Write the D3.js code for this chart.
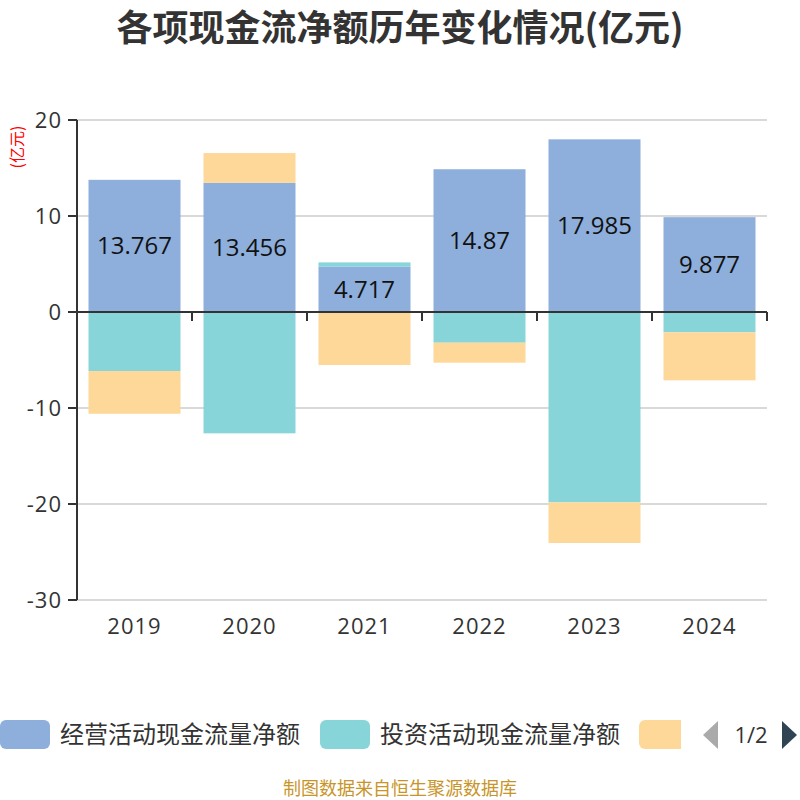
<!DOCTYPE html>
<html><head><meta charset="utf-8">
<script src="https://cdn.jsdelivr.net/npm/d3@7"></script>
<style>body{margin:0;background:#fff}svg{display:block;font-family:"Noto Sans CJK SC","Noto Sans",sans-serif}</style>
</head><body><svg id="c" width="800" height="800"></svg>
<script>
const years = ["2019","2020","2021","2022","2023","2024"];
const operating = [13.767, 13.456, 4.717, 14.87, 17.985, 9.877];
const investing = [-6.15, -12.64, 0.45, -3.2, -19.83, -2.12];
const financing = [-4.45, 3.1, -5.52, -2.08, -4.23, -5.0];
const seriesNames = ["经营活动现金流量净额", "投资活动现金流量净额", "筹资活动现金流量净额"];
const colors = ["#8eaedb", "#88d5d9", "#fed898"];
const yTicks = [20, 10, 0, -10, -20, -30];

const svg = d3.select("#c");
const x = d3.scaleBand().domain(years).range([77, 767]).paddingInner(0.2).paddingOuter(0.1);
const xb = d3.scaleBand().domain(years).range([77, 767]);
const y = d3.scaleLinear().domain([-30, 20]).range([600, 120]);
const numFont = "'Open Sans','Noto Sans',sans-serif";

// grid
svg.append("g").selectAll("line").data(yTicks).join("line")
  .attr("x1", 77).attr("x2", 767).attr("y1", d => y(d)).attr("y2", d => y(d))
  .attr("stroke", "#ccc").attr("stroke-width", 1.5);

// stacked bars (positive/negative stacking)
const allSeries = [operating, investing, financing];
const posAcc = years.map(() => 0), negAcc = years.map(() => 0);
allSeries.forEach((s, si) => {
  const segs = s.map((v, i) => {
    let y0, y1;
    if (v >= 0) { y0 = posAcc[i]; y1 = y0 + v; posAcc[i] = y1; }
    else { y0 = negAcc[i]; y1 = y0 + v; negAcc[i] = y1; }
    return {year: years[i], y0, y1, v};
  });
  svg.append("g").selectAll("rect").data(segs).join("rect")
    .attr("x", d => x(d.year)).attr("width", x.bandwidth())
    .attr("y", d => y(Math.max(d.y0, d.y1)))
    .attr("height", d => Math.abs(y(d.y0) - y(d.y1)))
    .attr("fill", colors[si]);
});

// labels on operating
svg.append("g").selectAll("text").data(operating).join("text")
  .attr("x", (d, i) => x(years[i]) + x.bandwidth() / 2)
  .attr("y", d => y(d / 2))
  .attr("dy", "0.35em").attr("text-anchor", "middle")
  .attr("font-size", 24).attr("fill", "#111")
  .attr("font-family", numFont)
  .text(d => d);

// x axis at zero
const xg = svg.append("g");
xg.append("line").attr("x1", 77).attr("x2", 767).attr("y1", y(0)).attr("y2", y(0))
  .attr("stroke", "#333").attr("stroke-width", 2);
const bounds = years.map(d => xb(d)).concat([767]);
xg.selectAll("line.t").data(bounds).join("line").attr("class", "t")
  .attr("x1", d => d).attr("x2", d => d).attr("y1", y(0)).attr("y2", y(0) + 9)
  .attr("stroke", "#333").attr("stroke-width", 2);
svg.append("g").selectAll("text").data(years).join("text")
  .attr("x", d => xb(d) + xb.bandwidth() / 2).attr("y", 626)
  .attr("dy", "0.35em").attr("text-anchor", "middle")
  .attr("font-size", 22).attr("letter-spacing", 1).attr("fill", "#333")
  .attr("font-family", numFont)
  .text(d => d);

// y axis
svg.append("line").attr("x1", 77).attr("x2", 77).attr("y1", 120).attr("y2", 600)
  .attr("stroke", "#333").attr("stroke-width", 2);
svg.append("g").selectAll("line").data(yTicks).join("line")
  .attr("x1", 68).attr("x2", 77).attr("y1", d => y(d)).attr("y2", d => y(d))
  .attr("stroke", "#333").attr("stroke-width", 2);
svg.append("g").selectAll("text").data(yTicks).join("text")
  .attr("x", 62).attr("y", d => y(d)).attr("dy", "0.35em").attr("text-anchor", "end")
  .attr("font-size", 22).attr("letter-spacing", 1).attr("fill", "#333")
  .attr("font-family", numFont)
  .text(d => d);

// y axis unit
svg.append("text").attr("transform", "translate(17,147) rotate(-90)")
  .attr("text-anchor", "middle").attr("dy", "0.35em")
  .attr("font-size", 16).attr("fill", "#f00").text("(亿元)");

// title
svg.append("text").attr("x", 400).attr("y", 28).attr("dy", "0.35em")
  .attr("text-anchor", "middle").attr("font-size", 36).attr("font-weight", "bold")
  .attr("fill", "#333").text("各项现金流净额历年变化情况(亿元)");

// legend
const lg = svg.append("g");
const legendX = [0, 320, 639];
[0, 1].forEach(i => {
  lg.append("rect").attr("x", legendX[i]).attr("y", 720).attr("width", 50).attr("height", 29)
    .attr("rx", 6).attr("fill", colors[i]);
  lg.append("text").attr("x", legendX[i] + 60).attr("y", 735).attr("dy", "0.35em")
    .attr("font-size", 24).attr("fill", "#333").text(seriesNames[i]);
});
lg.append("defs").append("clipPath").attr("id", "lc").append("rect")
  .attr("x", 0).attr("y", 700).attr("width", 681).attr("height", 60);
lg.append("rect").attr("x", 639).attr("y", 720).attr("width", 50).attr("height", 29)
  .attr("rx", 6).attr("fill", colors[2]).attr("clip-path", "url(#lc)");
lg.append("path").attr("d", "M718,721 L718,749 L703,735 Z").attr("fill", "#aaa");
lg.append("text").attr("x", 751).attr("y", 735).attr("dy", "0.35em").attr("text-anchor", "middle")
  .attr("font-size", 22).attr("fill", "#333").attr("font-family", numFont).text("1/2");
lg.append("path").attr("d", "M782,721 L782,749 L797,735 Z").attr("fill", "#2f4554");

// footer
svg.append("text").attr("x", 400).attr("y", 789).attr("dy", "0.35em").attr("text-anchor", "middle")
  .attr("font-size", 18).attr("fill", "#c8952a").text("制图数据来自恒生聚源数据库");
</script></body></html>
